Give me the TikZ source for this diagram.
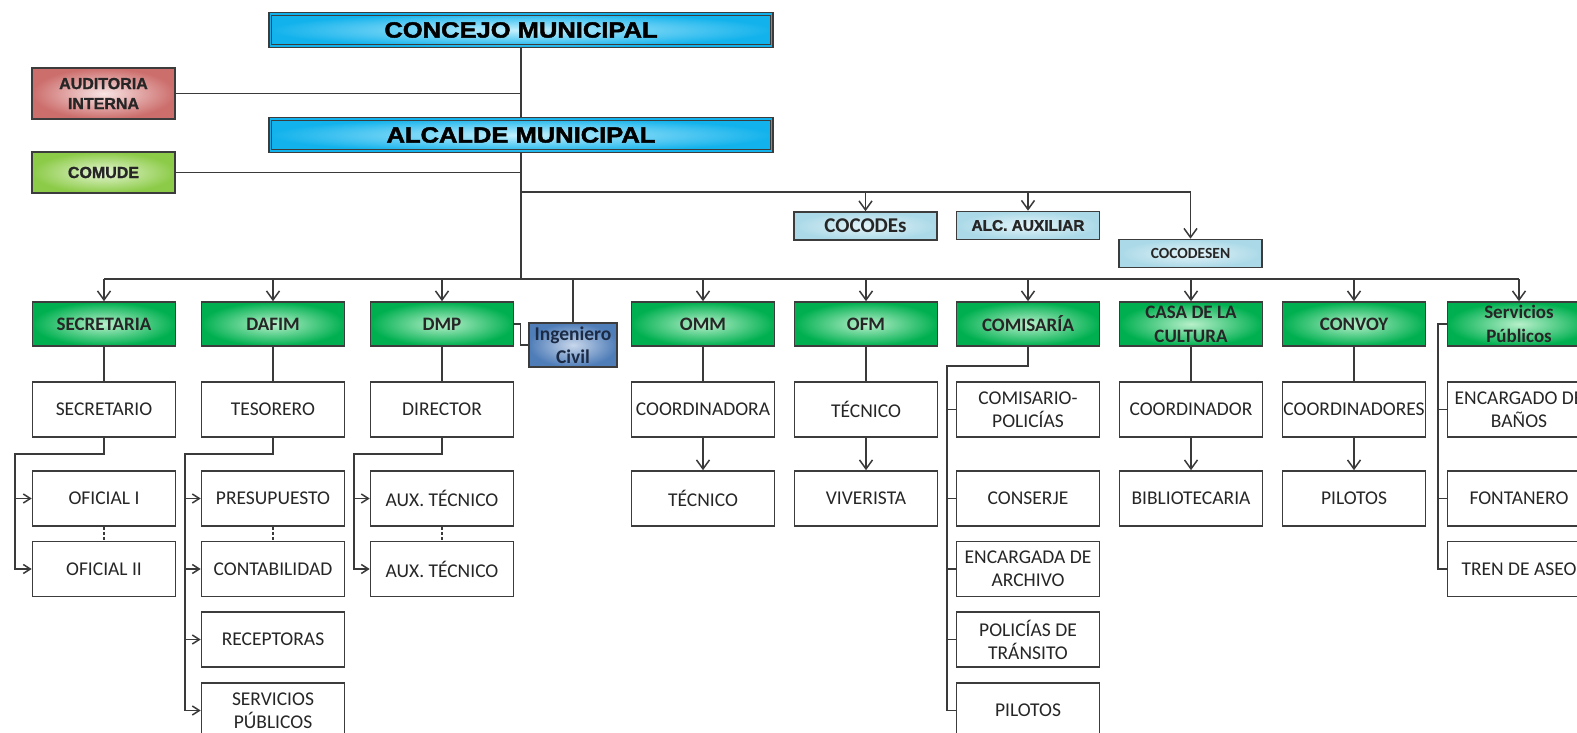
\documentclass[tikz,border=0pt]{standalone}
\usepackage{fontspec}
\setmainfont{Carlito}
\newfontfamily\arialf{Liberation Sans}[FakeBold=1.2]
\newfontfamily\hdf{Liberation Sans}[FakeStretch=1.16, FakeBold=2]
\usetikzlibrary{arrows.meta,calc}
\definecolor{bord}{HTML}{3C3C3C}
\definecolor{lnc}{HTML}{3A3A3A}
\definecolor{blueE}{HTML}{12B2EC}
\definecolor{blueM}{HTML}{C4F0FD}
\definecolor{greenE}{HTML}{00B050}
\definecolor{greenM}{HTML}{B8F0CB}
\definecolor{redE}{HTML}{CC6E6C}
\definecolor{redM}{HTML}{F8E4E4}
\definecolor{limeE}{HTML}{8CCB48}
\definecolor{limeM}{HTML}{E6F6D4}
\definecolor{lbE}{HTML}{ABD9E7}
\definecolor{lbM}{HTML}{E4F4F9}
\definecolor{ingE}{HTML}{4F7DB8}
\definecolor{ingM}{HTML}{C8D7EB}
\definecolor{ingT}{HTML}{1C2B45}
\definecolor{txt}{HTML}{262626}
\tikzset{
  box/.style={draw=bord, line width=1.6pt, inner sep=0pt, align=center, text=txt},
  hdbox/.style={box, inner color=blueM, outer color=blueE, minimum width=504pt, minimum height=35pt,
     text=black, font=\hdf\bfseries\fontsize{22}{26}\selectfont},
  sidebox/.style={box, minimum width=143pt, font=\arialf\bfseries\fontsize{16}{20}\selectfont},
  lbbox/.style={box, inner color=lbM, outer color=lbE, minimum width=143pt, minimum height=28pt},
  gbox/.style={box, inner color=greenM, outer color=greenE, minimum width=143pt, minimum height=44pt,
     font=\bfseries\fontsize{19}{24}\selectfont},
  wbox/.style={box, fill=white, minimum width=143pt, minimum height=55pt,
     font=\fontsize{19.5}{23}\selectfont},
  ln/.style={draw=lnc, line width=1.5pt},
  arr/.style={-{Straight Barb[length=9pt,width=13pt]}},
  sarr/.style={-{Straight Barb[length=7pt,width=9pt]}},
  dsh/.style={dash pattern=on 3pt off 2pt}
}
\begin{document}
\begin{tikzpicture}[x=1pt,y=-1pt]
\useasboundingbox (0,0) rectangle (1577,733);
\clip (0,0) rectangle (1577,733);
\fill[white] (0,0) rectangle (1577,733);

% top level
\node[hdbox] (cj) at (521,30) {CONCEJO MUNICIPAL};
\node[hdbox] (al) at (521,135) {ALCALDE MUNICIPAL};
\foreach \nm in {cj,al}
  \draw[draw=bord, line width=1.2pt] ([shift={(3.5pt,-3.5pt)}]\nm.north west) rectangle ([shift={(-3.5pt,3.5pt)}]\nm.south east);
\node[sidebox, inner color=redM, outer color=redE, minimum height=51pt] (aud) at (103.5,93.5) {AUDITORIA\\INTERNA};
\node[sidebox, inner color=limeM, outer color=limeE, minimum height=41pt] (cmd) at (103.5,172.5) {COMUDE};

\node[lbbox, font=\bfseries\fontsize{21}{24}\selectfont] (cocodes) at (865.5,226) {COCODEs};
\node[lbbox, font=\arialf\bfseries\fontsize{15.4}{18}\selectfont] (alc) at (1028,225.5) {ALC. AUXILIAR};
\node[lbbox, font=\bfseries\fontsize{15.5}{18}\selectfont] (cocodesen) at (1190.5,253.5) {COCODESEN};

\coordinate (cbar) at (521,192);
\coordinate (hub) at (521,279);

% green row
\node[gbox] (sec) at (104,324) {SECRETARIA};
\node[gbox] (daf) at (273,324) {DAFIM};
\node[gbox] (dmp) at (442,324) {DMP};
\node[gbox] (omm) at (703,324) {OMM};
\node[gbox] (ofm) at (866,324) {OFM};
\node[gbox] (com) at (1028,324) {COMISARÍA};
\node[gbox] (casa) at (1191,324) {CASA DE LA\\CULTURA};
\node[gbox] (conv) at (1354,324) {CONVOY};
\node[gbox] (serv) at (1519,324) {Servicios\\Públicos};
\node[box, inner color=ingM, outer color=ingE, minimum width=88pt, minimum height=44pt, text=ingT,
      font=\bfseries\fontsize{19.5}{23}\selectfont] (ing) at (573,345) {Ingeniero\\Civil};

% white boxes
\node[wbox] (secr) at (104,409.5) {SECRETARIO};
\node[wbox] (of1) at (104,498.5) {OFICIAL I};
\node[wbox] (of2) at (104,569) {OFICIAL II};
\node[wbox] (tes) at (273,409.5) {TESORERO};
\node[wbox] (pre) at (273,498.5) {PRESUPUESTO};
\node[wbox] (cont) at (273,569) {CONTABILIDAD};
\node[wbox] (rec) at (273,639.5) {RECEPTORAS};
\node[wbox] (spub) at (273,710.5) {SERVICIOS\\PÚBLICOS};
\node[wbox] (dir) at (442,409.5) {DIRECTOR};
\node[wbox] (ax1) at (442,498.5) {AUX. TÉCNICO};
\node[wbox] (ax2) at (442,569) {AUX. TÉCNICO};
\node[wbox] (coo) at (703,409.5) {COORDINADORA};
\node[wbox] (tec1) at (703,498.5) {TÉCNICO};
\node[wbox] (tec2) at (866,409.5) {TÉCNICO};
\node[wbox] (viv) at (866,498.5) {VIVERISTA};
\node[wbox] (cpol) at (1028,409.5) {COMISARIO-\\POLICÍAS};
\node[wbox] (cons) at (1028,498.5) {CONSERJE};
\node[wbox] (earc) at (1028,569) {ENCARGADA DE\\ARCHIVO};
\node[wbox] (ptr) at (1028,639.5) {POLICÍAS DE\\TRÁNSITO};
\node[wbox] (pil) at (1028,710.5) {PILOTOS};
\node[wbox] (cdor) at (1191,409.5) {COORDINADOR};
\node[wbox] (bib) at (1191,498.5) {BIBLIOTECARIA};
\node[wbox] (cdores) at (1354,409.5) {COORDINADORES};
\node[wbox] (pil2) at (1354,498.5) {PILOTOS};
\node[wbox] (eba) at (1519,409.5) {ENCARGADO DE\\BAÑOS};
\node[wbox] (fon) at (1519,498.5) {FONTANERO};
\node[wbox] (tren) at (1519,569) {TREN DE ASEO};

% top connectors
\draw[ln] (cj.south) -- (al.north);
\draw[ln] (aud.east) -- (aud.east -| cj.south);
\draw[ln] (al.south) -- (hub);
\draw[ln] (cmd.east) -- (cmd.east -| al.south);
\draw[ln,arr] (cbar) -| (cocodesen.north);
\draw[ln,arr] (cbar -| cocodes.north) -- (cocodes.north);
\draw[ln,arr] (cbar -| alc.north) -- (alc.north);
\draw[ln] (hub -| sec.north) -- (hub -| serv.north);
\foreach \nm in {sec,daf,dmp,omm,ofm,com,casa,conv,serv}
  \draw[ln,arr] (hub -| \nm.north) -- (\nm.north);
\draw[ln] (hub -| ing.north) -- (ing.north);
\draw[ln] (dmp.east) -- ++(6,0) |- (ing.west);

% SECRETARIA
\coordinate (sx) at (15,454);
\draw[ln] (sec.south) -- (secr.north);
\draw[ln,sarr] (secr.south) |- (sx) |- (of2.west);
\draw[ln,sarr] (sx |- of1.west) -- (of1.west);
\draw[ln,dsh] (of1.south) -- (of2.north);
% DAFIM
\coordinate (dx) at (185,454);
\draw[ln] (daf.south) -- (tes.north);
\draw[ln,sarr] (tes.south) |- (dx) |- (spub.west);
\foreach \nm in {pre,cont,rec}
  \draw[ln,sarr] (dx |- \nm.west) -- (\nm.west);
\draw[ln,dsh] (pre.south) -- (cont.north);
% DMP
\coordinate (mx) at (354,454);
\draw[ln] (dmp.south) -- (dir.north);
\draw[ln,sarr] (dir.south) |- (mx) |- (ax2.west);
\draw[ln,sarr] (mx |- ax1.west) -- (ax1.west);
\draw[ln,dsh] (ax1.south) -- (ax2.north);
% OMM, OFM, CASA, CONVOY
\draw[ln] (omm.south) -- (coo.north);
\draw[ln,arr] (coo.south) -- (tec1.north);
\draw[ln] (ofm.south) -- (tec2.north);
\draw[ln,arr] (tec2.south) -- (viv.north);
\draw[ln] (casa.south) -- (cdor.north);
\draw[ln,arr] (cdor.south) -- (bib.north);
\draw[ln] (conv.south) -- (cdores.north);
\draw[ln,arr] (cdores.south) -- (pil2.north);
% COMISARIA
\coordinate (cx) at (947,366);
\draw[ln] (com.south) |- (cx) |- (pil.west);
\foreach \nm in {cpol,cons,earc,ptr}
  \draw[ln] (cx |- \nm.west) -- (\nm.west);
% SERVICIOS
\coordinate (svx) at (1438,324);
\draw[ln] (serv.west) -- (svx) |- (tren.west);
\foreach \nm in {eba,fon}
  \draw[ln] (svx |- \nm.west) -- (\nm.west);
\end{tikzpicture}
\end{document}
